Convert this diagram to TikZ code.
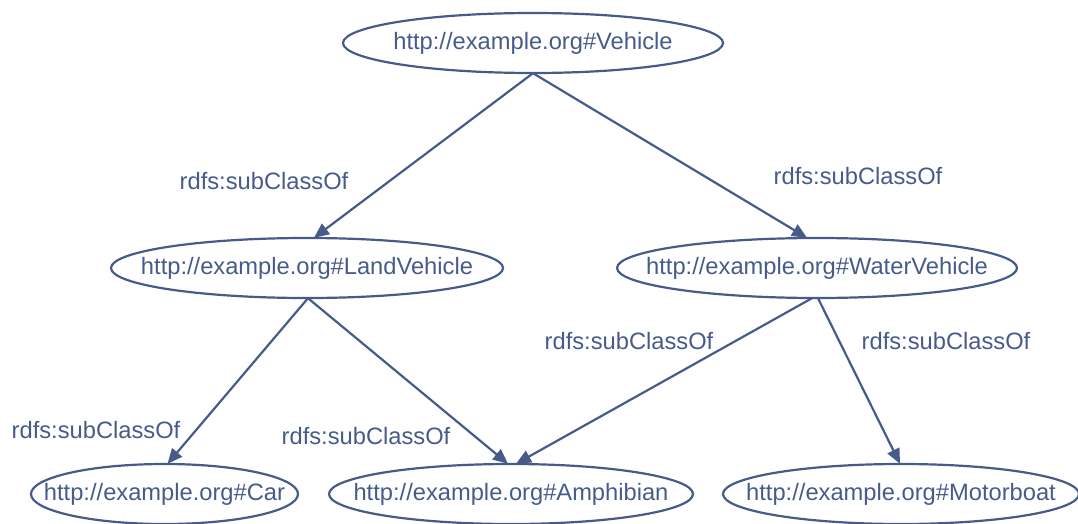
\documentclass[tikz,border=0pt]{standalone}
\usepackage{fontspec}
\setmainfont{Liberation Sans}
\usetikzlibrary{arrows.meta}
\definecolor{ink}{RGB}{71,91,139}
\tikzset{
  cls/.style={rectangle, text=ink, inner sep=0pt, minimum height=60pt,
    font=\fontsize{23.7}{28}\selectfont},
  ring/.style={draw=ink, line width=2.2pt},
  rel/.style={draw=ink, line width=2.2pt, -{Triangle[length=15pt,width=13pt]}},
  lbl/.style={text=ink, inner sep=0pt, font=\fontsize{23.7}{28}\selectfont}
}
\begin{document}
\begin{tikzpicture}[x=1pt,y=-1pt]
\useasboundingbox (0,0) rectangle (1078,524);
% class nodes
\node[cls, minimum width=380pt] (veh) at (533,43) {http://example.org\#Vehicle};
\node[cls, minimum width=392pt] (land) at (307,268) {http://example.org\#LandVehicle};
\node[cls, minimum width=400pt] (water) at (817,268) {http://example.org\#WaterVehicle};
\node[cls, minimum width=267pt] (car) at (164.5,494) {http://example.org\#Car};
\node[cls, minimum width=364pt] (amph) at (511,494) {http://example.org\#Amphibian};
\node[cls, minimum width=356pt] (motor) at (901,494) {http://example.org\#Motorboat};
% ellipse outlines around the class names
\draw[ring] (veh.center) ellipse [x radius=190pt, y radius=30pt];
\draw[ring] (land.center) ellipse [x radius=196pt, y radius=30pt];
\draw[ring] (water.center) ellipse [x radius=200pt, y radius=30pt];
\draw[ring] (car.center) ellipse [x radius=133.5pt, y radius=30pt];
\draw[ring] (amph.center) ellipse [x radius=182pt, y radius=30pt];
\draw[ring] (motor.center) ellipse [x radius=178pt, y radius=30pt];
% subclass relations
\draw[rel] (veh.south) -- ([xshift=7pt]land.north);
\draw[rel] (veh.south) -- ([xshift=-10pt]water.north);
\draw[rel] ([xshift=1pt]land.south) -- ([xshift=3pt]car.north);
\draw[rel] ([xshift=1pt]land.south) -- ([xshift=-3pt]amph.north);
\draw[rel] ([xshift=-5pt]water.south) -- ([xshift=5pt]amph.north);
\draw[rel] ([xshift=1pt]water.south) -- ([xshift=-1pt]motor.north);
% relation labels
\node[lbl] (l1) at (264,181) {rdfs:subClassOf};
\node[lbl] (l2) at (858,176) {rdfs:subClassOf};
\node[lbl] (l3) at (629,341) {rdfs:subClassOf};
\node[lbl] (l4) at (946,341) {rdfs:subClassOf};
\node[lbl] (l5) at (96,430) {rdfs:subClassOf};
\node[lbl] (l6) at (366,436) {rdfs:subClassOf};
\end{tikzpicture}
\end{document}
